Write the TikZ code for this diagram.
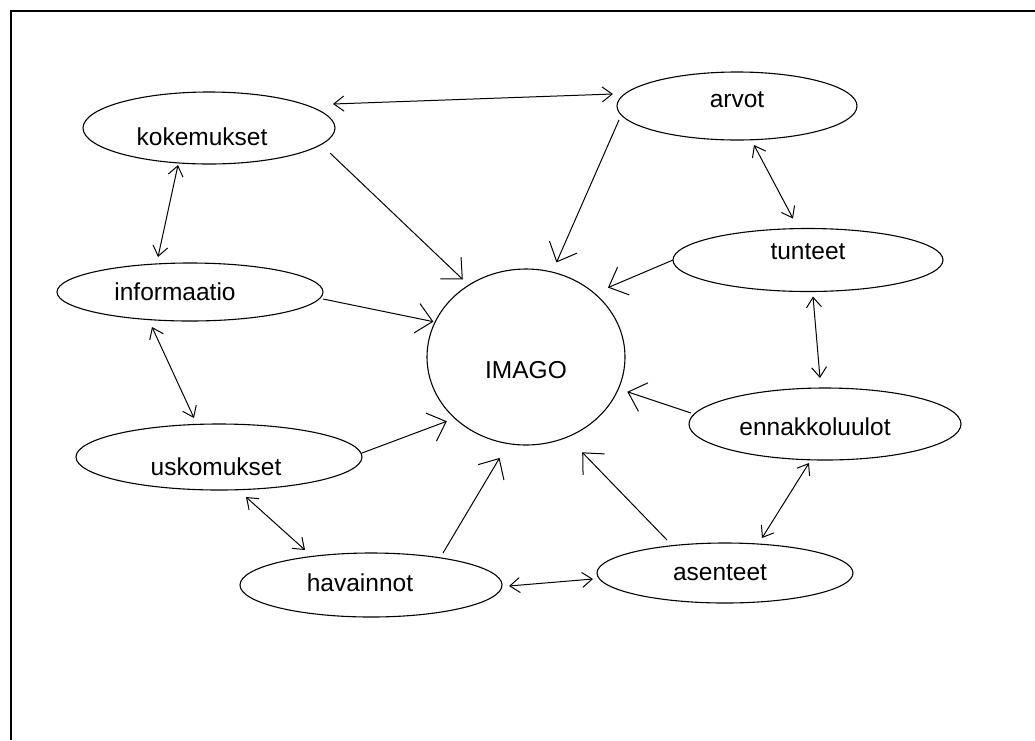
\documentclass[tikz,border=0pt]{standalone}
\usepackage{fontspec}
\setmainfont{Liberation Sans}
\usetikzlibrary{arrows.meta, shapes.geometric}

\begin{document}
\begin{tikzpicture}[x=1pt, y=-1pt,
    oval/.style={draw, ellipse, inner sep=0pt, outer sep=0pt, line width=1.1pt},
    every label/.style={font=\fontsize{24.5}{28}\selectfont, inner sep=0pt},
    toimago/.style={-{Straight Barb[length=16pt, width=30pt]}, line width=1pt},
    both/.style={{Straight Barb[length=10pt, width=15pt]}-{Straight Barb[length=10pt, width=15pt]},
                 line width=1pt},
]
\useasboundingbox (0,0) rectangle (1035,740);

% frame
\draw[line width=2pt] (10.5,740) -- (10.5,10.5) -- (1035,10.5);

% centre
\node[oval, minimum width=198pt, minimum height=176pt,
      label={[yshift=-13pt]center:IMAGO}] (imago) at (526,357) {};

% surrounding ovals
\node[oval, minimum width=252pt, minimum height=72pt,
      label={[xshift=-7pt, yshift=-9pt]center:kokemukset}] (kok) at (209,128) {};
\node[oval, minimum width=240pt, minimum height=68pt,
      label={[yshift=6pt]center:arvot}] (arv) at (737,106) {};
\node[oval, minimum width=270pt, minimum height=63pt,
      label={[yshift=8pt]center:tunteet}] (tun) at (808,260) {};
\node[oval, minimum width=266pt, minimum height=58pt,
      label={[xshift=-15pt]center:informaatio}] (info) at (190,292) {};
\node[oval, minimum width=272pt, minimum height=72pt,
      label={[xshift=-10pt, yshift=-3pt]center:ennakkoluulot}] (enn) at (825,424) {};
\node[oval, minimum width=286pt, minimum height=66pt,
      label={[xshift=-3pt, yshift=-10pt]center:uskomukset}] (usk) at (219,457) {};
\node[oval, minimum width=256pt, minimum height=60pt,
      label={[xshift=-5pt]center:asenteet}] (ase) at (725,573) {};
\node[oval, minimum width=262pt, minimum height=64pt,
      label={[xshift=-11pt, yshift=2pt]center:havainnot}] (hav) at (371,585) {};

% arrows into IMAGO
\draw[toimago] ([shift={(-5,25)}]kok.east) -- ([shift={(-4,-7)}]imago.130);
\draw[toimago] ([shift={(2,14)}]arv.west) -- ([shift={(3,-10)}]imago.72);
\draw[toimago] (tun.west) -- ([shift={(10,-9)}]imago.40);
\draw[toimago] ([shift={(0,7)}]info.east) -- ([shift={(-1,-2)}]imago.160);
\draw[toimago] ([shift={(0,-4)}]usk.east) -- ([shift={(-6,5)}]imago.219);
\draw[toimago] ([shift={(72,0)}]hav.north) -- ([shift={(-5,15)}]imago.256);
\draw[toimago] ([shift={(-58,-3)}]ase.north) -- ([shift={(11,17)}]imago.-60);
\draw[toimago] ([shift={(2,-11)}]enn.west) -- ([shift={(9,3)}]imago.-19);

% ring of two-way arrows
\draw[both] ([shift={(-2,-24)}]kok.east) -- ([shift={(-4,-12)}]arv.west);
\draw[both] ([shift={(17,5)}]arv.south) -- ([shift={(-15,-10)}]tun.north);
\draw[both] ([shift={(5,5)}]tun.south) -- ([shift={(-5,-10)}]enn.north);
\draw[both] ([shift={(-16,3)}]enn.south) -- ([shift={(37,-5)}]ase.north);
\draw[both] ([shift={(-4,6)}]ase.west) -- ([shift={(7,1)}]hav.east);
\draw[both] ([shift={(-66,-3)}]hav.north) -- ([shift={(27,7)}]usk.south);
\draw[both] ([shift={(-25,-6)}]usk.north) -- ([shift={(-38,6)}]info.south);
\draw[both] ([shift={(-32,-6)}]info.north) -- ([shift={(-31,1)}]kok.south);

\end{tikzpicture}
\end{document}
